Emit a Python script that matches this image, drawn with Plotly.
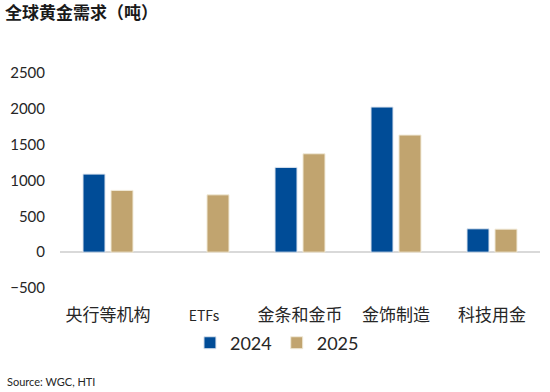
import plotly.graph_objects as go

categories = ["央行等机构", "ETFs", "金条和金币", "金饰制造", "科技用金"]
tick_text = ["央行等机构", "<span style='font-size:14px'>ETFs</span>", "金条和金币", "金饰制造", "科技用金"]
values_2024 = [1089, None, 1183, 2025, 326]
values_2025 = [862, 800, 1373, 1634, 321]
y_ticks = [-500, 0, 500, 1000, 1500, 2000, 2500]

BLUE = "#004C97"
TAN = "#C1A46F"
FONT = "Lato, 'Noto Sans CJK SC', sans-serif"

fig = go.Figure()
fig.add_trace(go.Bar(x=categories, y=values_2024, name="2024",
                     marker=dict(color=BLUE, line=dict(color="#dce4ef", width=1))))
fig.add_trace(go.Bar(x=categories, y=values_2025, name="2025",
                     marker=dict(color=TAN, line=dict(color="#f1ead9", width=1))))

fig.update_layout(
    width=550, height=392,
    margin=dict(l=60, r=10, t=73, b=104, autoexpand=False),
    paper_bgcolor="white", plot_bgcolor="white",
    barmode="group", bargap=0.417, bargroupgap=0.214,
    font=dict(family=FONT, color="#262626"),
    title=dict(text="<b>全球黄金需求（吨）</b>", x=5/550, xref="container", xanchor="left",
               y=1-13/392, yref="container", yanchor="middle",
               font=dict(family="'Noto Sans CJK SC', sans-serif", size=17, color="#1a1a1a")),
    showlegend=True,
    legend=dict(orientation="h", x=0.452, xanchor="center", y=-0.256, yanchor="middle",
                font=dict(size=18, family=FONT, color="#262626"), itemwidth=30,
                traceorder="normal"),
    xaxis=dict(showgrid=False, showline=False, ticks="", tickmode="array",
               tickvals=categories, ticktext=tick_text,
               tickfont=dict(size=17, family="'Noto Sans CJK SC', Lato, sans-serif", color="#262626"),
               ticklabelstandoff=15),
    yaxis=dict(range=[-500, 2500], tickmode="array", tickvals=y_ticks,
               showgrid=False, showline=False, ticks="",
               zeroline=True, zerolinecolor="#d9d9d9", zerolinewidth=1.5,
               tickfont=dict(size=15, family=FONT, color="#262626"),
               ticklabelstandoff=14),
    annotations=[dict(text="Source: WGC, HTI", xref="paper", yref="paper",
                      x=-55/480, y=-(381-288)/215, xanchor="left", yanchor="middle",
                      showarrow=False, font=dict(size=11, family=FONT, color="#262626"))],
)

fig.write_html("out.html", config={"displayModeBar": False},
               post_script="document.body.style.margin='0';")
